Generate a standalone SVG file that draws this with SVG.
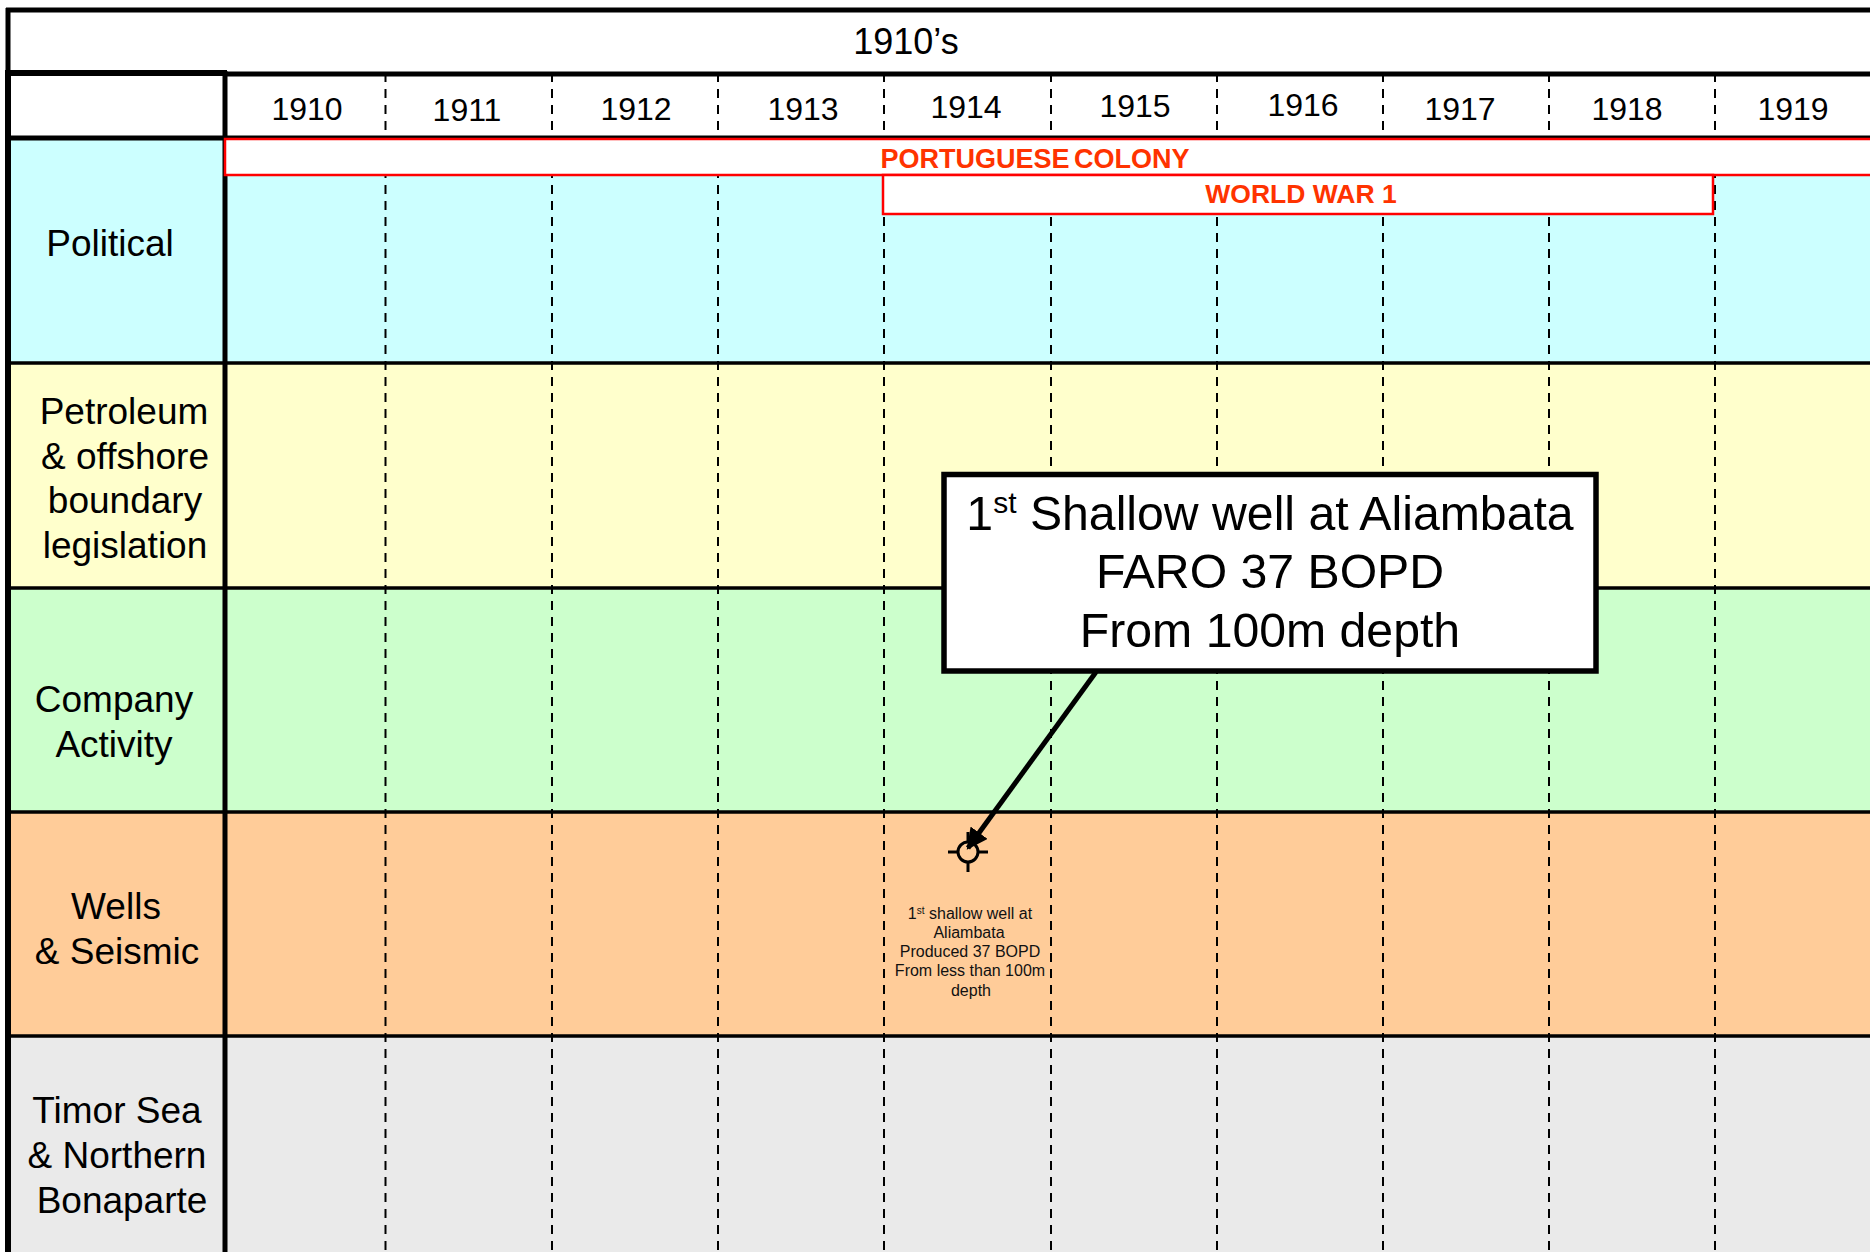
<svg xmlns="http://www.w3.org/2000/svg" width="1870" height="1252" viewBox="0 0 1870 1252">
<defs>
<style>
text{font-family:"Liberation Sans",Arial,sans-serif;fill:#000;text-anchor:middle}
.yr{font-size:32px}.lab{font-size:37px}.call{font-size:48.2px}.small{font-size:16px;fill:#111}
.red{font-size:27px;font-weight:bold;fill:#ff3300}
.grid{stroke:#000;fill:none}.dash{stroke:#000;stroke-width:2;stroke-dasharray:9 7;fill:none}
.band{fill:#fff;stroke:#f00;stroke-width:2.5}
</style>
<marker id="arrow" viewBox="0 0 10 10" refX="9" refY="5" markerWidth="4.2" markerHeight="4.2" orient="auto"><path d="M0 0L10 5L0 10z" fill="#000"/></marker>
</defs>
<rect width="1870" height="1252" fill="#fff"/>
<g id="rows">
<rect x="9" y="138" width="1861" height="225" fill="#ccffff"/>
<rect x="9" y="363" width="1861" height="225" fill="#ffffcc"/>
<rect x="9" y="588" width="1861" height="224" fill="#ccffcc"/>
<rect x="9" y="812" width="1861" height="224" fill="#ffcc99"/>
<rect x="9" y="1036" width="1861" height="216" fill="#eaeaea"/>
</g>
<g id="gridlines">
<path class="dash" d="M385.5 73V1252M552 73V1252M718 73V1252M884 73V1252M1051 73V1252M1217 73V1252M1383 73V1252M1549 73V1252M1715 73V1252"/>
<path class="grid" stroke-width="5" d="M6 10H1870M8 8V73"/>
<path class="grid" stroke-width="5" d="M225 74H1870"/>
<path class="grid" stroke-width="6" d="M5 73H227"/>
<path class="grid" stroke-width="5" d="M9 138H1870"/>
<path class="grid" stroke-width="3.5" d="M9 363H1870M9 588H1870M9 812H1870M9 1036H1870"/>
<path class="grid" stroke-width="6" d="M8 71V1252"/>
<path class="grid" stroke-width="5" d="M225 71V1252"/>
</g>
<g id="title"><text x="906" y="54" style="font-size:36px">1910’s</text></g>
<g id="years">
<text class="yr" x="307" y="120">1910</text>
<text class="yr" x="467" y="121">1911</text>
<text class="yr" x="636" y="120">1912</text>
<text class="yr" x="803" y="120">1913</text>
<text class="yr" x="966" y="118">1914</text>
<text class="yr" x="1135" y="117">1915</text>
<text class="yr" x="1303" y="116">1916</text>
<text class="yr" x="1460" y="120">1917</text>
<text class="yr" x="1627" y="120">1918</text>
<text class="yr" x="1793" y="120">1919</text>
</g>
<g id="row-labels">
<text class="lab" x="110" y="256">Political</text>
<text class="lab" x="124" y="424">Petroleum</text>
<text class="lab" x="125" y="469">&amp; offshore</text>
<text class="lab" x="125" y="513">boundary</text>
<text class="lab" x="125" y="558">legislation</text>
<text class="lab" x="114" y="712">Company</text>
<text class="lab" x="114" y="757">Activity</text>
<text class="lab" x="116" y="919">Wells</text>
<text class="lab" x="117" y="964">&amp; Seismic</text>
<text class="lab" x="117" y="1123">Timor Sea</text>
<text class="lab" x="117" y="1168">&amp; Northern</text>
<text class="lab" x="122" y="1213">Bonaparte</text>
</g>
<g id="portuguese-colony">
<rect class="band" x="225" y="139" width="1650" height="36"/>
<text class="red" x="1035" y="168" style="word-spacing:-3px">PORTUGUESE COLONY</text>
</g>
<g id="world-war-1">
<rect class="band" x="883" y="175" width="830" height="39"/>
<text class="red" x="1301" y="203" style="font-size:26.5px">WORLD WAR 1</text>
</g>
<g id="well-symbol" fill="none" stroke="#000" stroke-width="3">
<circle cx="968" cy="852" r="10"/>
<path d="M968 832V842M968 862V872M948 852H958M978 852H988"/>
</g>
<g id="well-label">
<text class="small" x="970" y="919">1<tspan font-size="10" dy="-5">st</tspan><tspan dy="5"> shallow well at</tspan></text>
<text class="small" x="969" y="938">Aliambata</text>
<text class="small" x="970" y="957">Produced 37 BOPD</text>
<text class="small" x="970" y="976">From less than 100m</text>
<text class="small" x="971" y="996">depth</text>
</g>
<g id="connectors">
<path d="M1096 672L968 848" fill="none" stroke="#000" stroke-width="5" marker-end="url(#arrow)"/>
</g>
<g id="callout">
<rect x="944" y="474.500" width="652" height="196.500" fill="#fff" stroke="#000" stroke-width="5.500"/>
<text class="call" x="1270" y="530">1<tspan font-size="30" dy="-17">st</tspan><tspan dy="17"> Shallow well at Aliambata</tspan></text>
<text class="call" x="1270" y="588">FARO 37 BOPD</text>
<text class="call" x="1270" y="647">From 100m depth</text>
</g>
</svg>
